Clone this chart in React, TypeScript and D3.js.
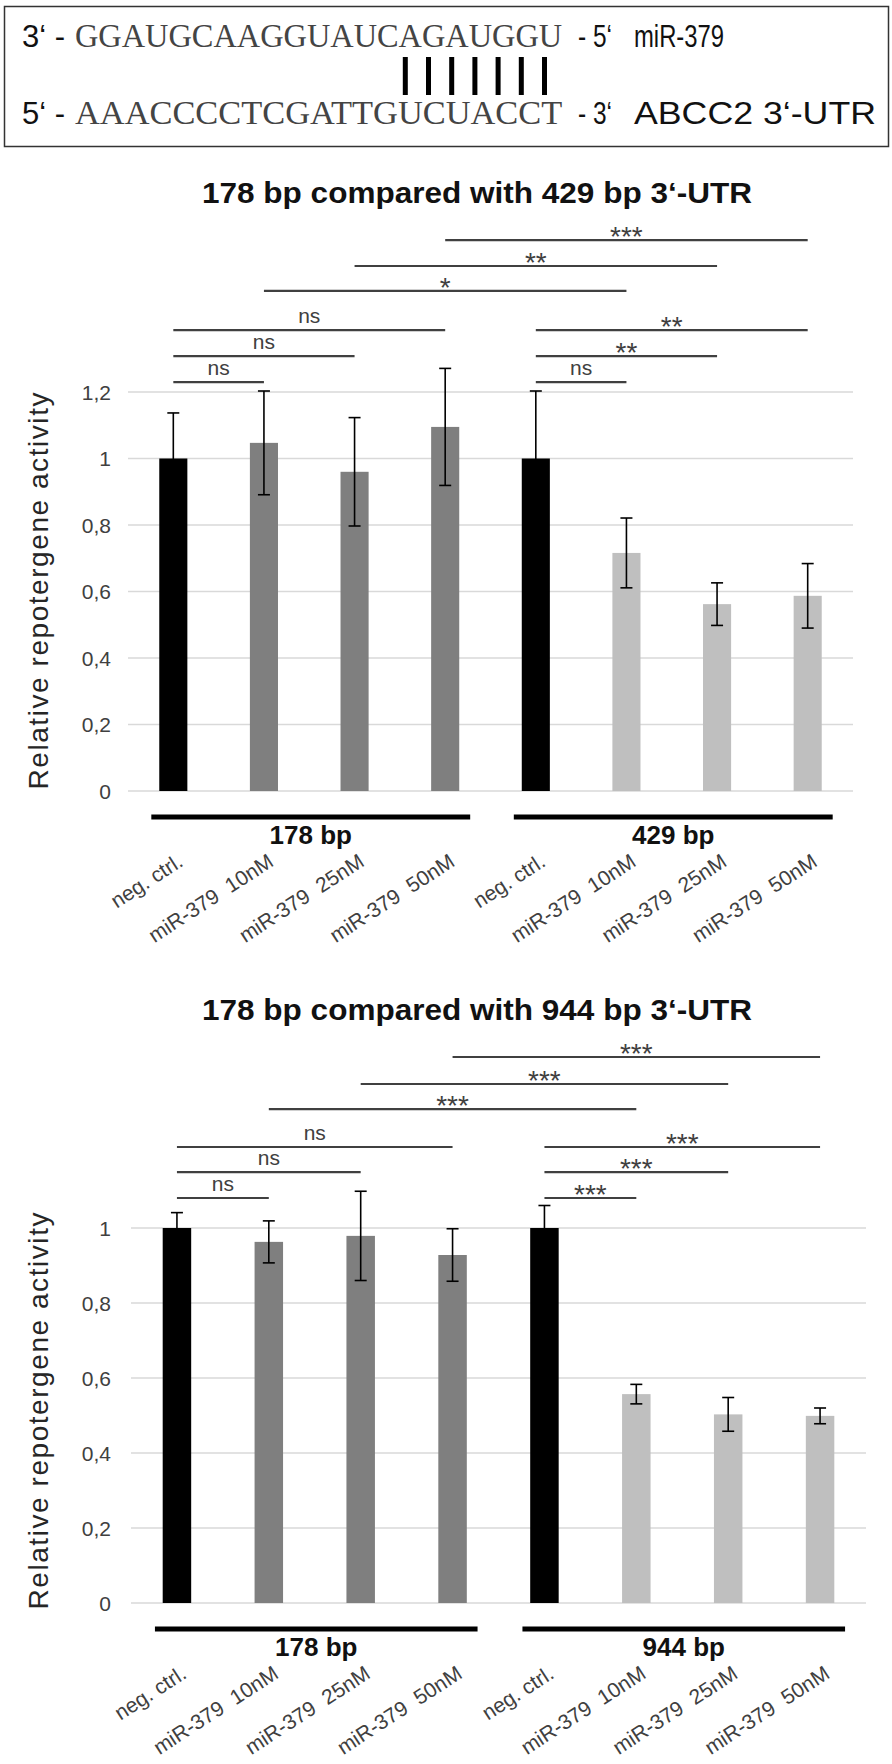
import React from "react";
import * as d3 from "d3";

// ---------- data ----------
const seqMiR = "GGAUGCAAGGUAUCAGAUGGU";
const seqUTR = "AAACCCCTCGATTGUCUACCT";
const pairedIndices = [14, 15, 16, 17, 18, 19, 20];

const categories = [
  "neg. ctrl.",
  "miR-379  10nM",
  "miR-379  25nM",
  "miR-379  50nM",
  "neg. ctrl.",
  "miR-379  10nM",
  "miR-379  25nM",
  "miR-379  50nM",
];

const groupsA = ["178 bp", "429 bp"];
const groupsB = ["178 bp", "944 bp"];

const valuesA = [1.0, 1.047, 0.96, 1.095, 1.0, 0.716, 0.562, 0.587];
const errorsA = [0.137, 0.156, 0.163, 0.176, 0.203, 0.105, 0.064, 0.097];
const valuesB = [1.0, 0.963, 0.979, 0.928, 1.0, 0.557, 0.503, 0.499];
const errorsB = [0.041, 0.056, 0.119, 0.07, 0.06, 0.026, 0.045, 0.021];

const ticksA = [0, 0.2, 0.4, 0.6, 0.8, 1, 1.2];
const tickLabelsA = ["0", "0,2", "0,4", "0,6", "0,8", "1", "1,2"];
const ticksB = [0, 0.2, 0.4, 0.6, 0.8, 1];
const tickLabelsB = ["0", "0,2", "0,4", "0,6", "0,8", "1"];

const bracketFromA = [0, 0, 0, 4, 4, 4, 1, 2, 3];
const bracketToA = [1, 2, 3, 5, 6, 7, 5, 6, 7];
const bracketLevelA = [1.23, 1.308, 1.386, 1.23, 1.308, 1.386, 1.504, 1.579, 1.657];
const bracketLabelA = ["ns", "ns", "ns", "ns", "**", "**", "*", "**", "***"];

const bracketFromB = [0, 0, 0, 4, 4, 4, 1, 2, 3];
const bracketToB = [1, 2, 3, 5, 6, 7, 5, 6, 7];
const bracketLevelB = [1.08, 1.149, 1.216, 1.08, 1.149, 1.216, 1.317, 1.384, 1.456];
const bracketLabelB = ["ns", "ns", "ns", "***", "***", "***", "***", "***", "***"];

const titleA = "178 bp compared with 429 bp 3\u2018-UTR";
const titleB = "178 bp compared with 944 bp 3\u2018-UTR";
const yTitle = "Relative repotergene activity";

const SANS = "'Liberation Sans', Arial, Helvetica, sans-serif";
const SERIF = "'Liberation Serif', 'Times New Roman', serif";

function barColor(i: number) {
  if (i % 4 === 0) return "#000000";
  return i < 4 ? "#7f7f7f" : "#bfbfbf";
}

type ChartProps = {
  title: string;
  titleY: number;
  values: number[];
  errors: number[];
  groups: string[];
  ticks: number[];
  tickLabels: string[];
  bFrom: number[];
  bTo: number[];
  bLevel: number[];
  bLabel: string[];
  xRange: [number, number];
  yDomainMax: number;
  yRange: [number, number];
  yTitleY: number;
};

function Chart(p: ChartProps) {
  const x = d3
    .scaleBand<number>()
    .domain(d3.range(categories.length))
    .range(p.xRange)
    .paddingInner(0.69)
    .paddingOuter(0.345);
  const y = d3.scaleLinear().domain([0, p.yDomainMax]).range(p.yRange);
  const cx = (i: number) => (x(i) as number) + x.bandwidth() / 2;
  const y0 = y(0);

  return (
    <g>
      <text
        x={202}
        y={p.titleY}
        fontFamily={SANS}
        fontWeight="bold"
        fontSize={30}
        textLength={550}
        lengthAdjust="spacingAndGlyphs"
        fill="#111"
      >
        {p.title}
      </text>
      {p.ticks.map((t) => (
        <line
          key={"g" + t}
          x1={p.xRange[0]}
          x2={p.xRange[1]}
          y1={y(t)}
          y2={y(t)}
          stroke="#d9d9d9"
          strokeWidth={1.5}
        />
      ))}
      {p.ticks.map((t, i) => (
        <text
          key={"t" + t}
          x={111}
          y={y(t) + 7.5}
          textAnchor="end"
          fontFamily={SANS}
          fontSize={21}
          fill="#404040"
        >
          {p.tickLabels[i]}
        </text>
      ))}
      <text
        transform={`translate(48,${p.yTitleY}) rotate(-90)`}
        textAnchor="middle"
        fontFamily={SANS}
        fontSize={28}
        textLength={397}
        lengthAdjust="spacing"
        fill="#262626"
      >
        {yTitle}
      </text>
      {p.values.map((v, i) => (
        <rect
          key={"b" + i}
          x={x(i)}
          y={y(v)}
          width={x.bandwidth()}
          height={y0 - y(v)}
          fill={barColor(i)}
        />
      ))}
      {p.values.map((v, i) => {
        const c = cx(i);
        const hi = y(v + p.errors[i]);
        const lo = y(v - p.errors[i]);
        return (
          <g key={"e" + i} stroke="#000" strokeWidth={1.6}>
            <line x1={c} x2={c} y1={hi} y2={lo} />
            <line x1={c - 6} x2={c + 6} y1={hi} y2={hi} />
            <line x1={c - 6} x2={c + 6} y1={lo} y2={lo} />
          </g>
        );
      })}
      {p.bFrom.map((f, k) => {
        const x1 = cx(f);
        const x2 = cx(p.bTo[k]);
        const yy = y(p.bLevel[k]);
        const isStar = p.bLabel[k].indexOf("*") >= 0;
        return (
          <g key={"s" + k}>
            <line x1={x1} x2={x2} y1={yy} y2={yy} stroke="#404040" strokeWidth={2.2} />
            <text
              x={(x1 + x2) / 2}
              y={isStar ? yy + 6 : yy - 7}
              textAnchor="middle"
              fontFamily={SANS}
              fontSize={isStar ? 28 : 21}
              fill="#404040"
            >
              {p.bLabel[k]}
            </text>
          </g>
        );
      })}
      {p.groups.map((g, gi) => {
        const a = cx(gi * 4) - 22;
        const b = cx(gi * 4 + 3) + 25;
        return (
          <g key={"gr" + gi}>
            <line x1={a} x2={b} y1={y0 + 26} y2={y0 + 26} stroke="#000" strokeWidth={5} />
            <text
              x={(a + b) / 2}
              y={y0 + 53}
              textAnchor="middle"
              fontFamily={SANS}
              fontWeight="bold"
              fontSize={26}
              fill="#111"
            >
              {g}
            </text>
          </g>
        );
      })}
      {categories.map((c, i) => {
        const ax = cx(i) + 11;
        const ay = y0 + 74;
        return (
          <text
            key={"c" + i}
            x={ax}
            y={ay}
            transform={`rotate(-33,${ax},${ay})`}
            textAnchor="end"
            fontFamily={SANS}
            fontSize={21}
            fill="#404040"
            style={{ whiteSpace: "pre" }}
          >
            {c}
          </text>
        );
      })}
    </g>
  );
}

function SequenceBox() {
  const seqX = 75;
  const charW = 23.2;
  return (
    <g>
      <rect x={4.5} y={6.5} width={884} height={140} fill="none" stroke="#333" strokeWidth={1.5} />
      <text x={22} y={47} fontFamily={SANS} fontSize={31} fill="#111">{"3\u2018 -"}</text>
      <text x={seqX} y={47} fontFamily={SERIF} fontSize={33} fill="#444" textLength={charW * seqMiR.length} lengthAdjust="spacingAndGlyphs">
        {seqMiR}
      </text>
      <text x={578} y={47} fontFamily={SANS} fontSize={31} fill="#111" textLength={34} lengthAdjust="spacingAndGlyphs">{"- 5\u2018"}</text>
      <text x={634} y={47} fontFamily={SANS} fontSize={31} fill="#111" textLength={90} lengthAdjust="spacingAndGlyphs">miR-379</text>

      {pairedIndices.map((k) => (
        <rect key={k} x={seqX + charW * k + 3} y={57} width={5} height={38} fill="#000" />
      ))}

      <text x={22} y={124} fontFamily={SANS} fontSize={31} fill="#111">{"5\u2018 -"}</text>
      <text x={seqX} y={124} fontFamily={SERIF} fontSize={33} fill="#444" textLength={charW * seqUTR.length} lengthAdjust="spacingAndGlyphs">
        {seqUTR}
      </text>
      <text x={578} y={124} fontFamily={SANS} fontSize={31} fill="#111" textLength={34} lengthAdjust="spacingAndGlyphs">{"- 3\u2018"}</text>
      <text x={634} y={124} fontFamily={SANS} fontSize={31} fill="#111" textLength={242} lengthAdjust="spacingAndGlyphs">{"ABCC2 3\u2018-UTR"}</text>
    </g>
  );
}

export default function App() {
  return (
    <svg
      width={892}
      height={1764}
      viewBox="0 0 892 1764"
      style={{ position: "absolute", left: 0, top: 0, background: "#fff" }}
    >
      <rect width={892} height={1764} fill="#fff" />
      <SequenceBox />
      <Chart
        title={titleA}
        titleY={203}
        values={valuesA}
        errors={errorsA}
        groups={groupsA}
        ticks={ticksA}
        tickLabels={tickLabelsA}
        bFrom={bracketFromA}
        bTo={bracketToA}
        bLevel={bracketLevelA}
        bLabel={bracketLabelA}
        xRange={[128, 853]}
        yDomainMax={1.2}
        yRange={[791, 392]}
        yTitleY={591}
      />
      <Chart
        title={titleB}
        titleY={1020}
        values={valuesB}
        errors={errorsB}
        groups={groupsB}
        ticks={ticksB}
        tickLabels={tickLabelsB}
        bFrom={bracketFromB}
        bTo={bracketToB}
        bLevel={bracketLevelB}
        bLabel={bracketLabelB}
        xRange={[131, 866]}
        yDomainMax={1}
        yRange={[1603, 1228]}
        yTitleY={1411}
      />
    </svg>
  );
}
